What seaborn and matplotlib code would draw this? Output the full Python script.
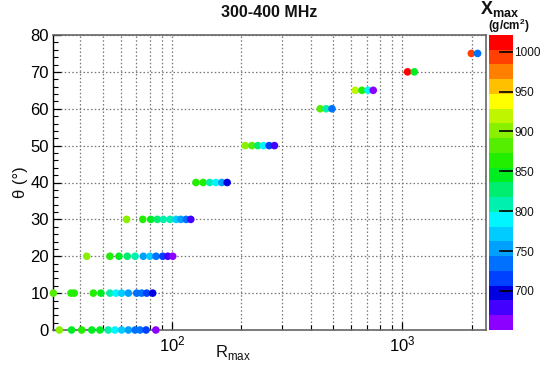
import numpy as np
import pandas as pd
import matplotlib
matplotlib.use("Agg")
import matplotlib.pyplot as plt
from matplotlib.colors import ListedColormap, Normalize
from matplotlib.cm import ScalarMappable
from matplotlib.ticker import LogLocator, MultipleLocator, FixedLocator, NullFormatter
import seaborn as sns

# ---- data ----
theta_0 = [0] * 13
rmax_0 = [32.4, 36.6, 40.5, 44.8, 48.6, 52.8, 56.5, 60.4, 64.6, 69.1, 72.6, 77.1, 85.0]
xmax_0 = [900, 850, 858, 850, 840, 809, 791, 772, 753, 735, 725, 716, 662]

theta_10 = [10] * 13
rmax_10 = [30.5, 36.4, 37.6, 45.5, 49.1, 53.7, 57.1, 60.4, 64.6, 70.2, 73.8, 77.6, 82.4]
xmax_10 = [890, 870, 865, 860, 840, 805, 791, 772, 755, 738, 725, 712, 700]

theta_20 = [20] * 11
rmax_20 = [42.6, 53.7, 58.8, 63.9, 69.1, 75.0, 80.2, 85.2, 91.1, 95.8, 100.7]
xmax_20 = [900, 862, 850, 835, 805, 750, 772, 735, 716, 680, 662]

theta_30 = [30] * 10
rmax_30 = [63.5, 74.6, 80.8, 86.3, 91.7, 98.0, 104.1, 109.1, 115.1, 120.6]
xmax_30 = [900, 862, 850, 830, 815, 800, 772, 752, 725, 680]

theta_40 = [40] * 6
rmax_40 = [127.0, 136.5, 145.8, 155.0, 164.5, 173.5]
xmax_40 = [860, 855, 805, 785, 752, 690]

theta_50 = [50] * 6
rmax_50 = [207.7, 222.2, 235.9, 249.4, 264.1, 278.5]
xmax_50 = [900, 875, 835, 790, 720, 670]

theta_60 = [60] * 3
rmax_60 = [440, 467, 495]
xmax_60 = [885, 805, 735]

theta_65 = [65] * 4
rmax_65 = [625, 668, 710, 748]
xmax_65 = [925, 870, 785, 665]

theta_70 = [70] * 2
rmax_70 = [1054, 1128]
xmax_70 = [1014, 840]

theta_75 = [75] * 2
rmax_75 = [1995, 2124]
xmax_75 = [995, 740]

theta = theta_0 + theta_10 + theta_20 + theta_30 + theta_40 + theta_50 + theta_60 + theta_65 + theta_70 + theta_75
rmax = rmax_0 + rmax_10 + rmax_20 + rmax_30 + rmax_40 + rmax_50 + rmax_60 + rmax_65 + rmax_70 + rmax_75
xmax = xmax_0 + xmax_10 + xmax_20 + xmax_30 + xmax_40 + xmax_50 + xmax_60 + xmax_65 + xmax_70 + xmax_75

df = pd.DataFrame({"Rmax": rmax, "theta": theta, "Xmax": xmax})

y_ticks = [0, 10, 20, 30, 40, 50, 60, 70, 80]
cbar_ticks = [700, 750, 800, 850, 900, 950, 1000]

# ROOT-like 20-band rainbow palette
band_colors = ['#8c00ff', '#4400ff', '#0000e0', '#0040ff', '#0070ff',
               '#00a0ff', '#00ccff', '#00f5ff', '#00f0b0', '#00ee70',
               '#00ee20', '#22ee00', '#55ee00', '#88f000', '#c0f500',
               '#ffff00', '#ffc000', '#ff8000', '#ff4000', '#ff0000']
cmap = ListedColormap(band_colors)
vmin, vmax = 651, 1021
norm = Normalize(vmin=vmin, vmax=vmax)

sns.set_theme(style="white")
plt.rcParams['font.family'] = ['Liberation Sans', 'DejaVu Sans']

fig = plt.figure(figsize=(5.40, 3.67), dpi=100)
ax = fig.add_axes([53/540, 1 - 330/367, (486 - 53)/540, (330 - 35)/367])
cax = fig.add_axes([489/540, 1 - 330/367, (513 - 489)/540, (330 - 35)/367])

sns.scatterplot(data=df, x="Rmax", y="theta", hue="Xmax", palette=cmap,
                hue_norm=norm, s=30, linewidth=0, legend=False, ax=ax,
                clip_on=False, zorder=3)

ax.set_xscale("log")
ax.set_xlim(30.4, 2310)
ax.set_ylim(0, 80)

ax.yaxis.set_major_locator(FixedLocator(y_ticks))
ax.yaxis.set_minor_locator(MultipleLocator(2))
ax.xaxis.set_major_locator(LogLocator(base=10, numticks=10))
ax.xaxis.set_minor_locator(LogLocator(base=10, subs=np.arange(2, 10), numticks=20))
ax.xaxis.set_minor_formatter(NullFormatter())

ax.grid(True, which="major", axis="both", color="#777777", linestyle=(0, (1.2, 1.8)), linewidth=0.9)
ax.grid(True, which="minor", axis="x", color="#777777", linestyle=(0, (1.2, 1.8)), linewidth=0.9)
ax.set_axisbelow(True)

ax.tick_params(axis="both", which="major", direction="in", length=6, width=0.9,
               color="black", labelsize=12, labelcolor="black", left=True, bottom=True)
ax.tick_params(axis="both", which="minor", direction="in", length=3.5, width=0.8,
               color="black", left=True, bottom=True)
ax.tick_params(axis="y", pad=3)
ax.tick_params(axis="x", pad=3)

for side in ["top", "right", "bottom"]:
    ax.spines[side].set_color("#666666")
    ax.spines[side].set_linewidth(1.2)
ax.spines["left"].set_color("black")
ax.spines["left"].set_linewidth(1.0)

ax.set_xlabel(r"R$_{\mathregular{max}}$", fontsize=12, color="#111111")
ax.xaxis.set_label_coords(0.415, -0.045)
ax.set_ylabel("θ (°)", fontsize=12, color="#111111")
ax.yaxis.set_label_coords(-0.058, 0.5)

ax.set_title("300-400 MHz", fontsize=11.5, fontweight="bold", color="#111111", pad=13)

sm = ScalarMappable(norm=norm, cmap=cmap)
sm.set_array([])
cb = fig.colorbar(sm, cax=cax)
cb.outline.set_visible(False)
cb.set_ticks(cbar_ticks)
cax.set_axisbelow(False)
cax.minorticks_off()
cax.yaxis.set_ticks_position("right")
cax.tick_params(axis="y", which="major", direction="in", length=10, width=1.2,
                color="black", labelsize=8.5, labelcolor="#111111", pad=1,
                right=True, left=False, labelright=True, labelleft=False)

fig.text(500/540, 1 - 9/367, r"X$_{\mathregular{max}}$", fontsize=13, fontweight="bold",
         ha="center", va="center", color="#111111")
fig.text(509/540, 1 - 26/367, r"(g/cm$^{\mathregular{2}}$)", fontsize=8.5, fontweight="bold",
         ha="center", va="center", color="#111111")

fig.savefig("out.png", dpi=100)
